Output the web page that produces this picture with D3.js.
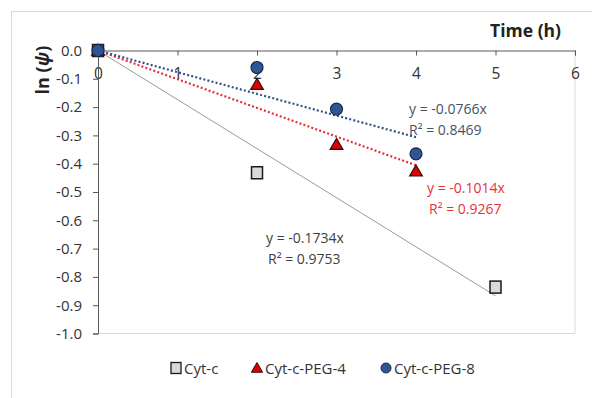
<!DOCTYPE html>
<meta charset="utf-8">
<style>
  body { margin: 0; background: #fff; }
  text { font-family: "Open Sans", "Noto Sans", sans-serif; }
</style>
<body>
<script src="https://cdn.jsdelivr.net/npm/d3@7"></script>
<script>

    var width = 592,
        height = 398;

    // data
    var timeCytc = [0, 2, 5],
        valCytc = [0, -0.432, -0.836];
    var timePeg4 = [0, 2, 3, 4],
        valPeg4 = [0, -0.121, -0.333, -0.427];
    var timePeg8 = [0, 2, 3, 4],
        valPeg8 = [0, -0.06, -0.207, -0.365];

    var slopes = [-0.1734, -0.1014, -0.0766];
    var fitEnd = [5, 4, 4];
    var fitLabels = [["y = -0.1734x", "R² = 0.9753"],
                     ["y = -0.1014x", "R² = 0.9267"],
                     ["y = -0.0766x", "R² = 0.8469"]];
    var seriesNames = ["Cyt-c", "Cyt-c-PEG-4", "Cyt-c-PEG-8"];

    var xTicks = [0, 1, 2, 3, 4, 5, 6];
    var yTicks = [0, -0.1, -0.2, -0.3, -0.4, -0.5, -0.6, -0.7, -0.8, -0.9, -1.0];

    var svg = d3.select("body").append("svg")
            .attr("width", width)
            .attr("height", height);

    // chart frame
    svg.append("rect")
            .attr("x", 11.5).attr("y", 11.5)
            .attr("width", 600).attr("height", 400)
            .attr("fill", "none")
            .attr("stroke", "#d9d9d9");

    var x = d3.scaleLinear().domain([0, 6]).range([98, 575]);
    var y = d3.scaleLinear().domain([0, -1]).range([50.5, 333.5]);

    // plot area border (right & bottom light)
    svg.append("path")
            .attr("d", "M" + x(6) + "," + y(0) + "V" + y(-1) + "H" + x(0))
            .attr("fill", "none")
            .attr("stroke", "#d9d9d9");

    // x axis on top, ticks pointing down, labels below
    var xAxis = svg.append("g")
            .attr("transform", "translate(0," + y(0) + ")")
            .call(d3.axisBottom(x).tickValues(xTicks).tickSize(5).tickFormat(d3.format("d")));
    xAxis.select(".domain").attr("stroke", "#595959");
    xAxis.selectAll(".tick line").attr("stroke", "#595959");
    xAxis.selectAll(".tick text")
            .attr("font-size", 15.5)
            .attr("fill", "#333")
            .attr("font-family", "Open Sans")
            .attr("dy", "1.3em");

    var yAxis = svg.append("g")
            .attr("transform", "translate(" + x(0) + ",0)")
            .call(d3.axisLeft(y).tickValues(yTicks).tickSize(5).tickPadding(11).tickFormat(d3.format(".1f")));
    yAxis.select(".domain").attr("stroke", "#595959");
    yAxis.selectAll(".tick line").attr("stroke", "#595959");
    yAxis.selectAll(".tick text")
            .attr("font-size", 15)
            .attr("fill", "#333")
            .attr("font-family", "Open Sans")
            .text(function(d) { return d.toFixed(1).replace("-0.0", "0.0"); });

    // axis titles
    svg.append("text")
            .attr("x", 561).attr("y", 37)
            .attr("text-anchor", "end")
            .attr("font-size", 17.5)
            .attr("font-weight", "bold")
            .attr("fill", "#222")
            .text("Time (h)");

    var yt = svg.append("text")
            .attr("transform", "translate(49,70) rotate(-90)")
            .attr("text-anchor", "middle")
            .attr("font-size", 18)
            .attr("font-weight", "bold")
            .attr("fill", "#222");
    yt.append("tspan").text("ln (");
    yt.append("tspan").attr("font-style", "italic").text("ψ");
    yt.append("tspan").text(")");

    // trend lines
    var fitColors = ["#9a9a9a", "#e8303a", "#34508a"];
    slopes.forEach(function(m, i) {
        svg.append("line")
                .attr("x1", x(0)).attr("y1", y(0))
                .attr("x2", x(fitEnd[i])).attr("y2", y(m * fitEnd[i]))
                .attr("stroke", fitColors[i])
                .attr("stroke-width", i === 0 ? 1 : 2.2)
                .attr("stroke-dasharray", i === 0 ? null : "2,2.2");
    });

    // trend labels
    var labelPos = [[266, 243], [427, 193], [409, 114]];
    var labelColors = ["#404040", "#e8303a", "#44546a"];
    fitLabels.forEach(function(lines, i) {
        lines.forEach(function(t, j) {
            svg.append("text")
                    .attr("x", labelPos[i][0] + (j === 1 ? (i === 2 ? 0 : 2) : 0))
                    .attr("y", labelPos[i][1] + j * 21)
                    .attr("font-size", 14)
                    .attr("fill", labelColors[i])
                    .text(t);
        });
    });

    // markers
    function drawSquares(g, xs, ys) {
        xs.forEach(function(t, i) {
            g.append("rect")
                    .attr("x", x(t) - 5.5).attr("y", y(ys[i]) - 6)
                    .attr("width", 11).attr("height", 12)
                    .attr("fill", "#d9d9d9")
                    .attr("stroke", "#1a1a1a")
                    .attr("stroke-width", 1.5);
        });
    }
    var tri = d3.symbol().type(d3.symbolTriangle).size(70);
    function drawTriangles(g, xs, ys) {
        xs.forEach(function(t, i) {
            g.append("path")
                    .attr("d", tri())
                    .attr("transform", "translate(" + x(t) + "," + (y(ys[i]) + 1) + ")")
                    .attr("fill", "#e00000")
                    .attr("stroke", "#2a1010")
                    .attr("stroke-width", 1.2);
        });
    }
    function drawCircles(g, xs, ys) {
        xs.forEach(function(t, i) {
            g.append("circle")
                    .attr("cx", x(t)).attr("cy", y(ys[i]))
                    .attr("r", 6)
                    .attr("fill", "#2f5597")
                    .attr("stroke", "#1b2a45")
                    .attr("stroke-width", 1.2);
        });
    }
    var marks = svg.append("g");
    drawSquares(marks, timeCytc, valCytc);
    drawTriangles(marks, timePeg4, valPeg4);
    drawCircles(marks, timePeg8, valPeg8);

    // legend
    var legY = 368;
    var legX = [176, 257, 386];
    var lg = svg.append("g");
    lg.append("rect")
            .attr("x", legX[0] - 5).attr("y", legY - 5.5)
            .attr("width", 10).attr("height", 11)
            .attr("fill", "#d9d9d9").attr("stroke", "#1a1a1a").attr("stroke-width", 1.3);
    lg.append("path")
            .attr("d", d3.symbol().type(d3.symbolTriangle).size(55)())
            .attr("transform", "translate(" + legX[1] + "," + (legY + 1) + ")")
            .attr("fill", "#e00000").attr("stroke", "#2a1010").attr("stroke-width", 1);
    lg.append("circle")
            .attr("cx", legX[2]).attr("cy", legY).attr("r", 5)
            .attr("fill", "#2f5597").attr("stroke", "#1b2a45").attr("stroke-width", 1);
    seriesNames.forEach(function(n, i) {
        lg.append("text")
                .attr("x", legX[i] + 8).attr("y", legY + 5.5)
                .attr("font-size", 15)
                .attr("fill", "#333")
                .text(n);
    });

</script>
